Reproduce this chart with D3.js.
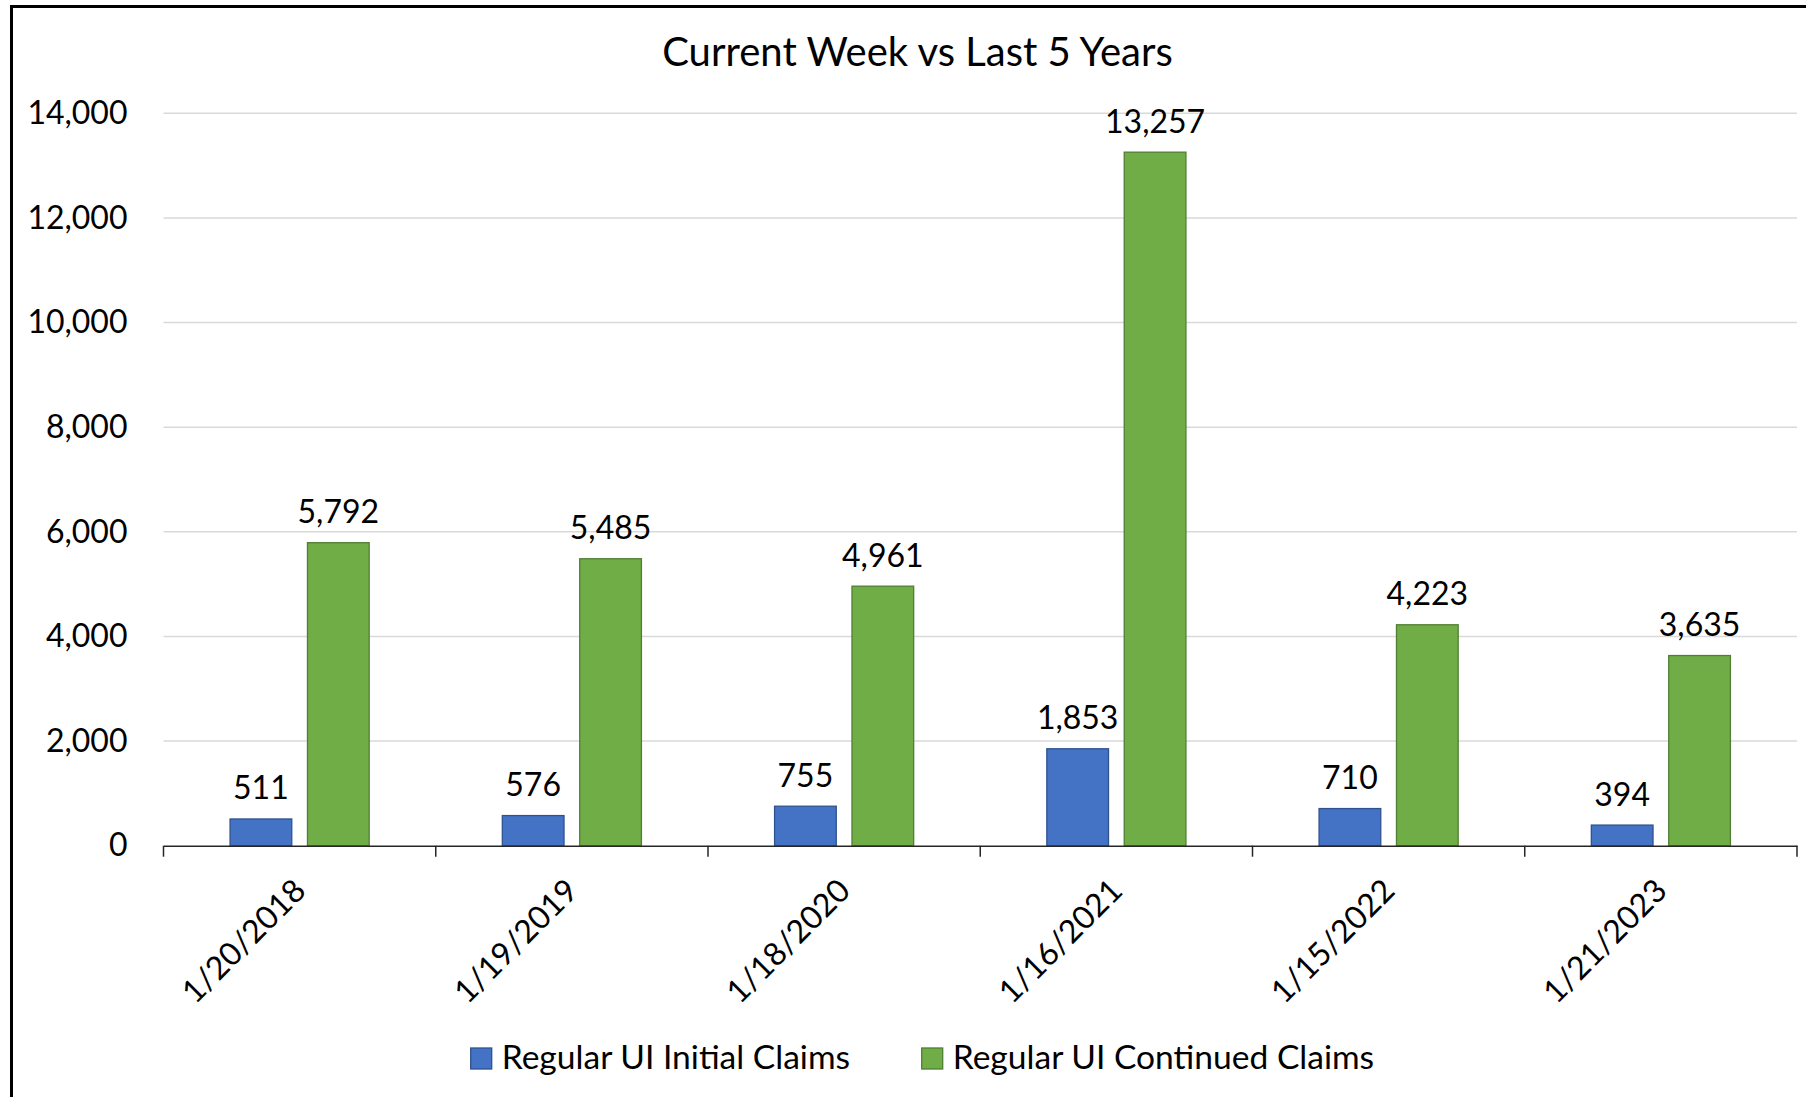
<!DOCTYPE html>
<html>
<head>
<meta charset="utf-8">
<script src="https://cdn.jsdelivr.net/npm/d3@7"></script>
<style>
  html, body { margin: 0; padding: 0; background: #fff; }
  svg { display: block; font-family: Lato, "Open Sans", sans-serif; }
</style>
</head>
<body>
<svg id="chart" width="1806" height="1097"></svg>
<script>
// ---- data ----
const categories = ["1/20/2018", "1/19/2019", "1/18/2020", "1/16/2021", "1/15/2022", "1/21/2023"];
const initialClaims = [511, 576, 755, 1853, 710, 394];
const continuedClaims = [5792, 5485, 4961, 13257, 4223, 3635];
const seriesNames = ["Regular UI Initial Claims", "Regular UI Continued Claims"];
const yTickValues = [0, 2000, 4000, 6000, 8000, 10000, 12000, 14000];
const titleText = "Current Week vs Last 5 Years";

// ---- layout ----
const W = 1806, H = 1097;
const plot = { left: 163.5, right: 1797, top: 113.3, bottom: 845.7 };
const colors = ["#4472C4", "#70AD47"];
const strokes = ["#2F528F", "#507E32"];

const svg = d3.select("#chart");

// outer border
svg.append("rect")
  .attr("x", 11.5).attr("y", 6.5)
  .attr("width", W).attr("height", H)
  .attr("fill", "none").attr("stroke", "#000").attr("stroke-width", 3);

const x0 = d3.scaleBand().domain(categories).range([plot.left, plot.right]).paddingInner(0).paddingOuter(0);
const x1 = d3.scaleBand().domain(seriesNames).range([0, x0.bandwidth()]).paddingInner(0.203).paddingOuter(0.86);
const y = d3.scaleLinear().domain([0, 14000]).range([plot.bottom, plot.top]);

// gridlines
svg.append("g").selectAll("line").data(yTickValues.filter(v => v > 0)).join("line")
  .attr("x1", plot.left).attr("x2", plot.right)
  .attr("y1", d => y(d)).attr("y2", d => y(d))
  .attr("stroke", "#D9D9D9").attr("stroke-width", 1.5);

// y axis labels
const yAxis = d3.axisLeft(y).tickValues(yTickValues).tickFormat(d3.format(",")).tickSize(0).tickPadding(36);
const gy = svg.append("g").attr("transform", `translate(${plot.left},0)`).call(yAxis);
gy.select(".domain").remove();
gy.selectAll("text").attr("font-size", 32).attr("fill", "#000").attr("font-family", "Lato, sans-serif");

// bars
const seriesData = [initialClaims, continuedClaims];
const groups = svg.append("g").selectAll("g").data(categories).join("g")
  .attr("transform", d => `translate(${x0(d)},0)`);

groups.selectAll("rect").data((d, i) => seriesNames.map((s, k) => ({ s, k, v: seriesData[k][i] }))).join("rect")
  .attr("x", d => x1(d.s))
  .attr("width", x1.bandwidth())
  .attr("y", d => y(d.v))
  .attr("height", d => y(0) - y(d.v))
  .attr("fill", d => colors[d.k])
  .attr("stroke", d => strokes[d.k])
  .attr("stroke-width", 1.3);

groups.selectAll("text").data((d, i) => seriesNames.map((s, k) => ({ s, k, v: seriesData[k][i] }))).join("text")
  .attr("x", d => x1(d.s) + x1.bandwidth() / 2)
  .attr("y", d => y(d.v) - 19.5)
  .attr("text-anchor", "middle")
  .attr("font-size", 32)
  .attr("fill", "#000")
  .text(d => d3.format(",")(d.v));

// x axis
const xAxis = d3.axisBottom(x0).tickSize(0).tickFormat("");
const gx = svg.append("g").attr("transform", `translate(0,${plot.bottom})`).call(xAxis);
gx.select(".domain").attr("stroke", "#262626").attr("stroke-width", 1.5);
// tick marks at category boundaries
const boundaries = categories.map(c => x0(c)).concat([plot.right]);
gx.selectAll("line.bound").data(boundaries).join("line").attr("class", "bound")
  .attr("x1", d => d).attr("x2", d => d).attr("y1", 0).attr("y2", 11)
  .attr("stroke", "#262626").attr("stroke-width", 1.5);

gx.selectAll("text.lab").data(categories).join("text").attr("class", "lab")
  .attr("transform", d => `translate(${x0(d) + x0.bandwidth() / 2 + 8},47) rotate(-45)`)
  .attr("text-anchor", "end")
  .attr("font-size", 32)
  .attr("fill", "#000")
  .attr("font-family", "Lato, sans-serif")
  .text(d => d);

// title
svg.append("text")
  .attr("x", 917.5).attr("y", 66)
  .attr("text-anchor", "middle")
  .attr("font-size", 40)
  .attr("fill", "#000")
  .text(titleText);

// legend
const legendPos = [470.7, 921.7];
const lg = svg.append("g").selectAll("g").data(seriesNames).join("g")
  .attr("transform", (d, i) => `translate(${legendPos[i]},1048)`);
lg.append("rect").attr("width", 21).attr("height", 21)
  .attr("fill", (d, i) => colors[i]).attr("stroke", (d, i) => strokes[i]).attr("stroke-width", 1.3);
lg.append("text").attr("x", 31).attr("y", 21)
  .attr("font-size", 33.6).attr("fill", "#000")
  .text(d => d);
</script>
</body>
</html>
